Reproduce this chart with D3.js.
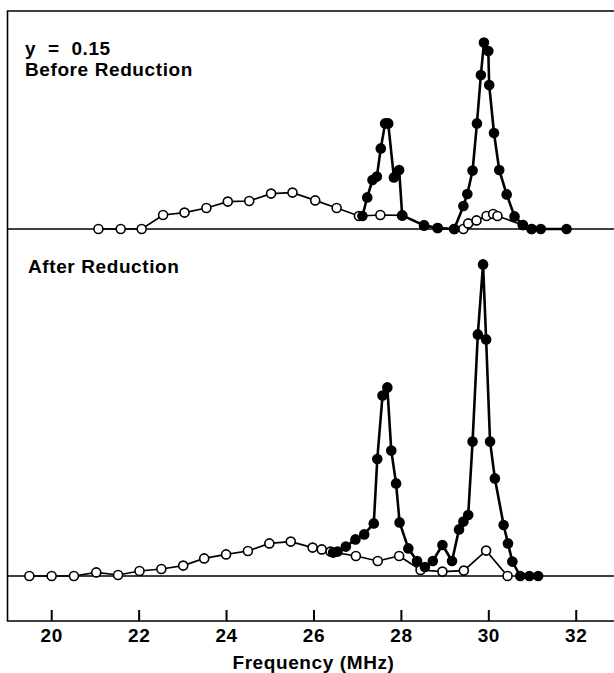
<!DOCTYPE html>
<html>
<head>
<meta charset="utf-8">
<script src="https://cdn.jsdelivr.net/npm/d3@7"></script>
<style>
  body { margin: 0; background: #fff; }
  svg { display: block; }
  text { font-family: "Liberation Sans", Arial, Helvetica, sans-serif; font-weight: bold; fill: #000; letter-spacing: 0.6px; }
</style>
</head>
<body>
<script>
// signal in arbitrary units, frequency in MHz
let topOpenFreq = [21.08, 21.59, 22.07, 22.56, 23.05, 23.55, 24.04, 24.53, 25.03, 25.52, 26.04, 26.53, 27.04, 27.53,
  28.03, 28.53, 28.84, 29.22, 29.43, 29.54, 29.73, 29.96, 30.11, 30.21, 30.79, 30.99];
let topOpenVal = [0, 0, 0, 0.7, 0.82, 1.05, 1.37, 1.4, 1.77, 1.82, 1.43, 1.05, 0.65, 0.7,
  0.68, 0.18, 0.05, 0, 0, 0.28, 0.43, 0.65, 0.75, 0.65, 0.2, 0];

let topFilledFreq = [27.12, 27.23, 27.35, 27.45, 27.54, 27.64, 27.71, 27.84, 27.96, 28.03, 28.53, 28.84, 29.22,
  29.43, 29.52, 29.64, 29.74, 29.83, 29.9, 30.0, 30.02, 30.13, 30.25, 30.42, 30.6, 30.79, 30.99, 31.2, 31.79];
let topFilledVal = [0.65, 1.58, 2.45, 2.62, 4.03, 5.28, 5.28, 2.58, 2.95, 0.68, 0.18, 0.05, 0,
  1.15, 1.75, 2.92, 5.28, 7.7, 9.32, 8.9, 7.2, 4.8, 2.95, 1.73, 0.63, 0.2, 0, 0, 0];

let botOpenFreq = [19.5, 20.01, 20.52, 21.03, 21.53, 22.02, 22.52, 23.02, 23.5, 24.0, 24.5, 24.99, 25.48, 25.98,
  26.19, 26.39, 26.97, 27.47, 27.96, 28.45, 28.95, 29.44, 29.95, 30.44];
let botOpenVal = [0, 0, 0, 0.18, 0.05, 0.25, 0.35, 0.52, 0.88, 1.08, 1.25, 1.63, 1.72, 1.42,
  1.33, 1.22, 1.0, 0.75, 1.0, 0.3, 0.22, 0.27, 1.27, 0];

let botFilledFreq = [26.45, 26.55, 26.74, 26.96, 27.16, 27.38, 27.46, 27.58, 27.69, 27.78, 27.89, 27.97, 28.17,
  28.37, 28.55, 28.73, 28.95, 29.17, 29.33, 29.43, 29.54, 29.64, 29.76, 29.88, 29.95, 30.04, 30.15, 30.35,
  30.45, 30.55, 30.73, 30.94, 31.14];
let botFilledVal = [1.17, 1.22, 1.47, 1.83, 2.08, 2.63, 5.85, 9.02, 9.43, 6.27, 4.63, 2.68, 1.38,
  0.75, 0.45, 0.75, 1.55, 0.75, 2.33, 2.72, 3.05, 6.72, 12.08, 15.58, 11.83, 6.72, 4.88, 2.55,
  1.63, 0.72, 0, 0, 0];

let xTicks = [20, 22, 24, 26, 28, 30, 32];

let w = 614,
  h = 673,
  left = 7.5,
  frameTop = 11,
  frameBottom = 621;

let x = d3.scaleLinear()
  .domain([19, 33])
  .range([left, left + 14 * 43.71]);

let yTop = d3.scaleLinear().domain([0, 10]).range([229, 29]);
let yBot = d3.scaleLinear().domain([0, 10]).range([576, 376]);

let svg = d3.select('body')
  .append('svg')
  .attr('width', w)
  .attr('height', h);

// frame (right side falls outside the picture)
svg.append('path')
  .attr('d', `M${x(33)},${frameTop}H${left}V${frameBottom}H${x(33)}`)
  .attr('fill', 'none')
  .attr('stroke', '#000')
  .attr('stroke-width', 1.6);

let xAxis = d3.axisBottom(x)
  .tickValues(xTicks)
  .tickSize(-11)
  .tickSizeOuter(0)
  .tickPadding(8)
  .tickFormat(d3.format('d'));

let ax = svg.append('g')
  .attr('transform', `translate(0,${frameBottom})`)
  .call(xAxis);
ax.select('.domain').remove();
ax.selectAll('line').attr('stroke-width', 2);
ax.selectAll('text')
  .attr('font-size', '19px')
  .attr('font-family', '"Liberation Sans", Arial, sans-serif')
  .attr('font-weight', 'bold');

svg.append('text')
  .attr('x', x(26))
  .attr('y', 669)
  .attr('text-anchor', 'middle')
  .attr('font-size', '19px')
  .text('Frequency (MHz)');

function drawPanel(y, openF, openV, fillF, fillV) {
  let g = svg.append('g');

  g.append('line')
    .attr('x1', left).attr('x2', w)
    .attr('y1', y(0)).attr('y2', y(0))
    .attr('stroke', '#000')
    .attr('stroke-width', 1.3);

  let openData = openF.map((f, i) => [f, openV[i]]);
  let fillData = fillF.map((f, i) => [f, fillV[i]]);
  let line = d3.line().x(d => x(d[0])).y(d => y(d[1]));

  g.append('path')
    .datum(openData)
    .attr('d', line)
    .attr('fill', 'none')
    .attr('stroke', '#000')
    .attr('stroke-width', 1.7);

  g.selectAll('circle.open')
    .data(openData)
    .enter()
    .append('circle')
    .attr('class', 'open')
    .attr('cx', d => x(d[0]))
    .attr('cy', d => y(d[1]))
    .attr('r', 4.5)
    .attr('fill', '#fff')
    .attr('stroke', '#000')
    .attr('stroke-width', 1.6);

  g.append('path')
    .datum(fillData)
    .attr('d', line)
    .attr('fill', 'none')
    .attr('stroke', '#000')
    .attr('stroke-width', 2.6)
    .attr('stroke-linejoin', 'round');

  g.selectAll('circle.filled')
    .data(fillData)
    .enter()
    .append('circle')
    .attr('class', 'filled')
    .attr('cx', d => x(d[0]))
    .attr('cy', d => y(d[1]))
    .attr('r', 5.3)
    .attr('fill', '#000');
}

drawPanel(yTop, topOpenFreq, topOpenVal, topFilledFreq, topFilledVal);
drawPanel(yBot, botOpenFreq, botOpenVal, botFilledFreq, botFilledVal);

svg.append('text')
  .attr('x', 25)
  .attr('y', 55)
  .attr('font-size', '19px')
  .style('white-space', 'pre')
  .text('y  =  0.15');

svg.append('text')
  .attr('x', 25)
  .attr('y', 76)
  .attr('font-size', '19px')
  .text('Before Reduction');

svg.append('text')
  .attr('x', 28)
  .attr('y', 273)
  .attr('font-size', '19px')
  .text('After Reduction');
</script>
</body>
</html>
